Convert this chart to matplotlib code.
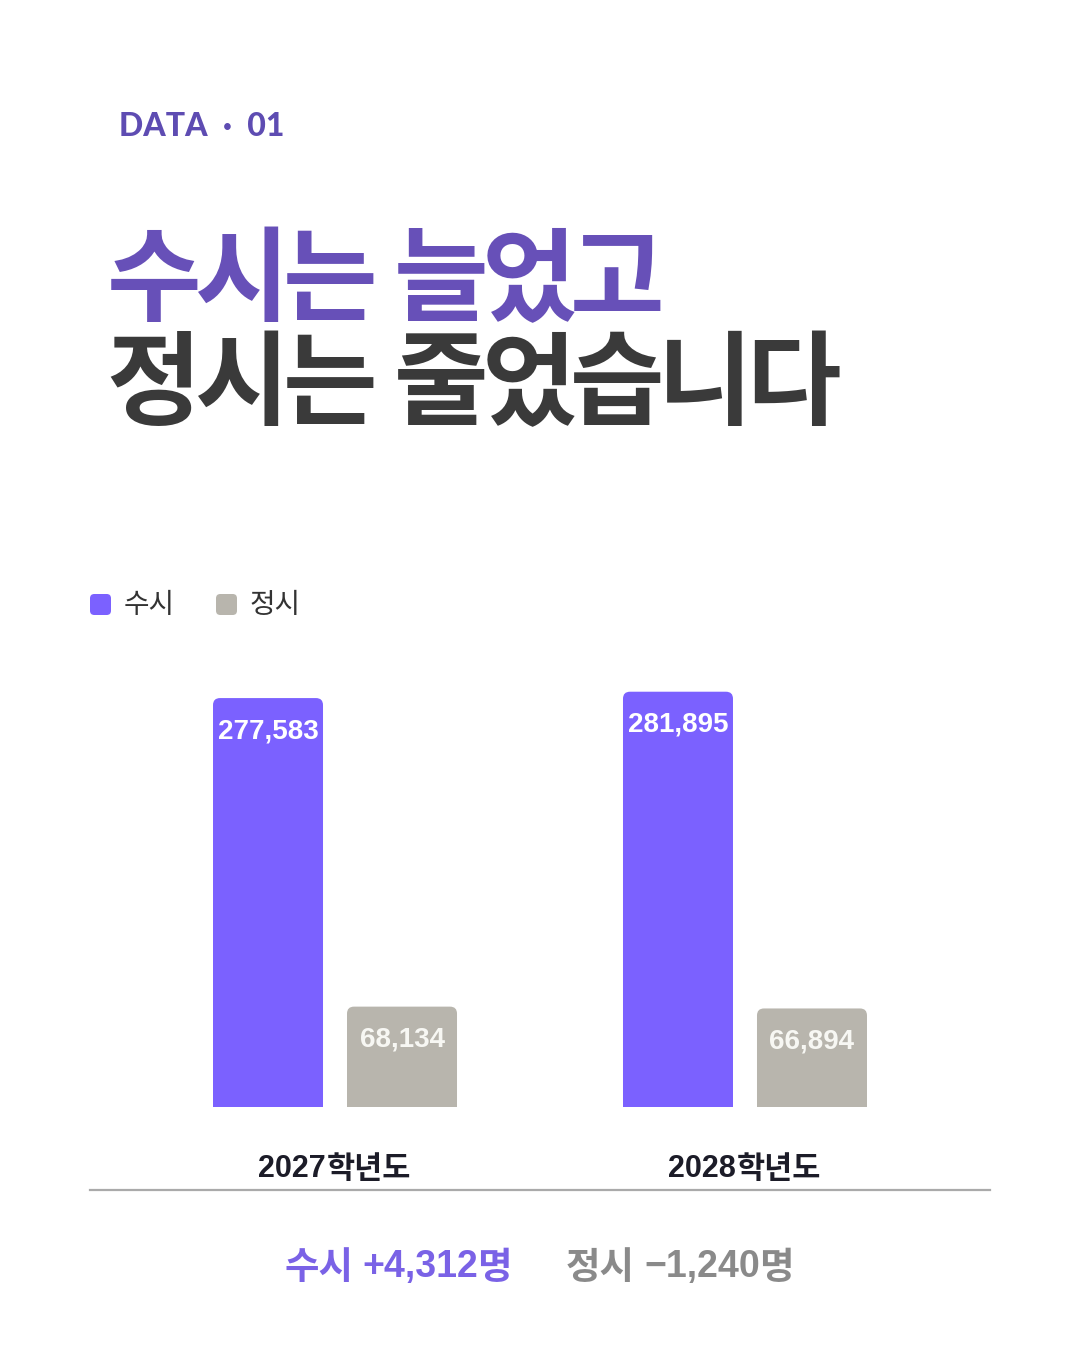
import matplotlib
matplotlib.use("Agg")
import matplotlib.pyplot as plt
from matplotlib.patches import FancyBboxPatch, Rectangle
from matplotlib.lines import Line2D

# ---------------- data ----------------
years = ["2027", "2028"]
year_suffix = "학년도"
series = ["수시", "정시"]
susi = [277583, 281895]
jeongsi = [68134, 66894]
kicker = "DATA  ·  01"
title_l1 = "수시는 늘었고"
title_l2 = "정시는 줄었습니다"
unit = "명"

# ---------------- style ----------------
W, H = 1080, 1350
PURPLE = "#7B61FF"
GRAY = "#B8B5AD"
TITLE_PURPLE = "#6750B8"
DARK = "#3A3A3A"
KR = "Noto Sans CJK KR"
LIB = "Liberation Sans"

fig = plt.figure(figsize=(W / 100, H / 100), dpi=100)
fig.patch.set_facecolor("white")
renderer = fig.canvas.get_renderer()


def fx(x):
    return x / W


def fy(y):
    return 1 - y / H


def segments(x, y, parts, ha="left"):
    """parts: list of (text, kwargs, gap_after_px). Drawn left to right."""
    objs = []
    total = 0
    for s, kw, gap in parts:
        t = fig.text(0, fy(y), s, va="center", ha="left", **kw)
        w = t.get_window_extent(renderer).width
        objs.append((t, w, gap))
        total += w + gap
    total -= parts[-1][2]
    if ha == "center":
        start = x - total / 2
    elif ha == "right":
        start = x - total
    else:
        start = x
    cur = start
    for t, w, gap in objs:
        t.set_x(fx(cur))
        cur += w + gap


# kicker
fig.text(fx(119), fy(126), kicker, color="#5E4CB2", fontsize=23,
         fontweight="black", family=["Lato", "DejaVu Sans"], ha="left", va="center")


# big title with tight tracking (advance-based)
def tracked(line, x0, yc, color, size=74, pitch=88, space=23):
    x = x0
    for ch in line:
        if ch == " ":
            x += space
            continue
        fig.text(fx(x + pitch / 2), fy(yc), ch, color=color, fontsize=size,
                 fontweight="black", family=[KR, "DejaVu Sans"],
                 ha="center", va="center")
        x += pitch


tracked(title_l1, 110, 283, TITLE_PURPLE)
tracked(title_l2, 110, 387, DARK)

# legend
for (lx, col, name) in [(90, PURPLE, series[0]), (216, GRAY, series[1])]:
    fig.patches.append(FancyBboxPatch((fx(lx), fy(615)), fx(21), 21 / H,
                                      boxstyle="round,pad=0,rounding_size=0.004",
                                      transform=fig.transFigure, facecolor=col,
                                      edgecolor="none", mutation_aspect=W / H))
    fig.text(fx(lx + 34), fy(605), name, color="#333333", fontsize=20,
             family=[KR, "DejaVu Sans"], ha="left", va="center")

# chart axes
ax_left, ax_right, ax_top, ax_bottom = 90, 990, 640, 1107
ax = fig.add_axes([fx(ax_left), fy(ax_bottom), fx(ax_right - ax_left),
                   (ax_bottom - ax_top) / H])
ax.set_xlim(-0.5976, 1.5976)
ax.set_ylim(0, 317000)
ax.axis("off")

ppu_x = (ax_right - ax_left) / (ax.get_xlim()[1] - ax.get_xlim()[0])
ppu_y = (ax_bottom - ax_top) / (ax.get_ylim()[1] - ax.get_ylim()[0])
aspect = ppu_x / ppu_y

bar_w = 110 / ppu_x
offset = 67 / ppu_x
radius = 7 / ppu_x


def rbar(xc, h, color, label_color):
    ax.add_patch(FancyBboxPatch((xc - bar_w / 2, 0), bar_w, h,
                                boxstyle=f"round,pad=0,rounding_size={radius}",
                                mutation_aspect=aspect, facecolor=color,
                                edgecolor="none"))
    ax.add_patch(Rectangle((xc - bar_w / 2, 0), bar_w, h / 2, facecolor=color,
                           edgecolor="none"))
    ax.text(xc, h - 33 / ppu_y, f"{h:,}", color=label_color, fontsize=20,
            fontweight="bold", family=[LIB, "DejaVu Sans"],
            ha="center", va="center")


for i in range(len(years)):
    rbar(i - offset, susi[i], PURPLE, "white")
    rbar(i + offset, jeongsi[i], GRAY, "#F7F7F3")
    # category label: bold digits + hangul
    cx_px = ax_left + (i - ax.get_xlim()[0]) * ppu_x
    segments(cx_px, 1169, [
        (years[i], dict(color="#1C1C28", fontsize=22, fontweight="bold",
                        family=[LIB, KR]), 1),
        (year_suffix, dict(color="#1C1C28", fontsize=22, fontweight="bold",
                           family=[KR]), 0),
    ], ha="center")

# divider
fig.add_artist(Line2D([fx(90), fx(990)], [fy(1190), fy(1190)],
                      color="#AAAAAA", linewidth=1.6))

# summary
d_susi = susi[1] - susi[0]
d_jeong = jeongsi[1] - jeongsi[0]


def sign(v):
    return "+" if v >= 0 else "−"


for (val, name, col, x, ha) in [(d_susi, series[0], "#7A62E6", 512, "right"),
                                (d_jeong, series[1], "#8A8A8A", 566, "left")]:
    segments(x, 1267, [
        (name, dict(color=col, fontsize=27, fontweight="bold", family=[KR]), 9),
        (f"{sign(val)}{abs(val):,}", dict(color=col, fontsize=27, fontweight="bold",
                                          family=[LIB, "DejaVu Sans"]), -1),
        (unit, dict(color=col, fontsize=27, fontweight="bold", family=[KR]), 0),
    ], ha=ha)

fig.savefig("out.png", dpi=100, facecolor="white")
